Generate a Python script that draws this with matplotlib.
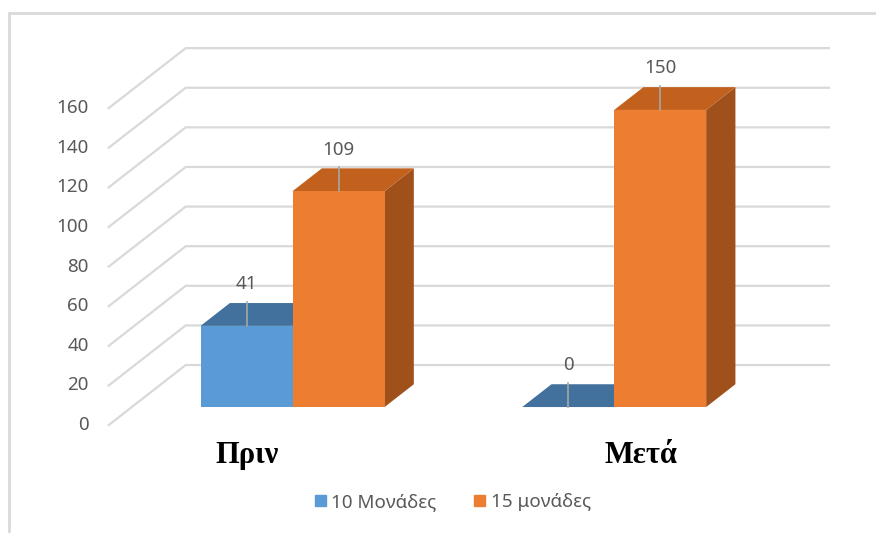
import matplotlib
matplotlib.use("Agg")
import matplotlib.pyplot as plt
import matplotlib.patches as mpatches
from matplotlib.patches import Polygon

# data
categories = ["Πριν", "Μετά"]
series_names = ["10 Μονάδες", "15 μονάδες"]
values_10 = [41, 0]
values_15 = [109, 150]
yticks = [0, 20, 40, 60, 80, 100, 120, 140, 160]

front_colors = ["#5b9bd5", "#ed7d31"]
top_colors = ["#41719c", "#c2601d"]
side_colors = ["#3a6690", "#a0511b"]
text_gray = "#595959"
grid_gray = "#d9d9d9"

# fake 3D: depth offset in data units
DX, DY = 0.2395, 30.3
D0, D1 = 0.30, 0.68
W = 0.286


def P(x, v, d):
    return (x + d * DX, v + d * DY)


fig = plt.figure(figsize=(8.76, 5.33), dpi=100)
ax = fig.add_axes([0, 0, 1, 1])
ax.set_xlim(-0.838, 1.886)
ax.set_ylim(-54.5, 214.6)
ax.axis("off")

# chart frame
frame = mpatches.Rectangle((9 / 876, -0.05), 1.2, 1 - 13 / 533 + 0.05,
                           transform=fig.transFigure, fill=False,
                           edgecolor="#d9d9d9", lw=2)
fig.patches.append(frame)

# gridlines: side wall diagonals + back wall
for v in yticks:
    x0, y0 = P(-0.5, v, 0)
    x1, y1 = P(-0.5, v, 1)
    x2, y2 = P(1.5, v, 1)
    ax.plot([x0, x1, x2], [y0, y1, y2], color=grid_gray, lw=1.6,
            solid_joinstyle="miter", zorder=1)
    ax.text(x0 - 0.062, v, str(v), ha="right", va="center",
            fontsize=13.5, color=text_gray, family="Noto Sans")


def bar3d(xl, v, k):
    xr = xl + W
    front = [P(xl, 0, D0), P(xr, 0, D0), P(xr, v, D0), P(xl, v, D0)]
    top = [P(xl, v, D0), P(xr, v, D0), P(xr, v, D1), P(xl, v, D1)]
    side = [P(xr, 0, D0), P(xr, 0, D1), P(xr, v, D1), P(xr, v, D0)]
    ax.add_patch(Polygon(side, closed=True, fc=side_colors[k], ec="none", zorder=3))
    ax.add_patch(Polygon(top, closed=True, fc=top_colors[k], ec="none", zorder=3))
    if v > 0:
        ax.add_patch(Polygon(front, closed=True, fc=front_colors[k], ec="none", zorder=3))
    # data label with leader line
    xc, yc = P(xl + W / 2, v, D0)
    ax.plot([xc, xc], [yc, yc + 12], color="#a6a6a6", lw=1.2, zorder=4)
    ax.text(xc, yc + 21, str(v), ha="center", va="center", fontsize=13.5,
            color=text_gray, family="Noto Sans", zorder=5)


for i in range(len(categories)):
    bar3d(i - W, values_10[i], 0)
    bar3d(i, values_15[i], 1)

# category labels
cat_shift = [-0.07, 0.155]
for i, c in enumerate(categories):
    ax.text(i + cat_shift[i], -15.2, c, ha="center", va="center",
            fontsize=22, fontweight="bold", family="Liberation Serif",
            color="black")

handles = [mpatches.Patch(color=front_colors[k], label=series_names[k]) for k in range(2)]
fig.legend(handles=handles, loc="center", bbox_to_anchor=(0.517, 0.058),
           ncol=2, frameon=False, handlelength=0.6, handleheight=0.6,
           handletextpad=0.3, columnspacing=2.0,
           prop={"family": "Noto Sans", "size": 13.5}, labelcolor=text_gray)

fig.savefig("out.png", dpi=100)
